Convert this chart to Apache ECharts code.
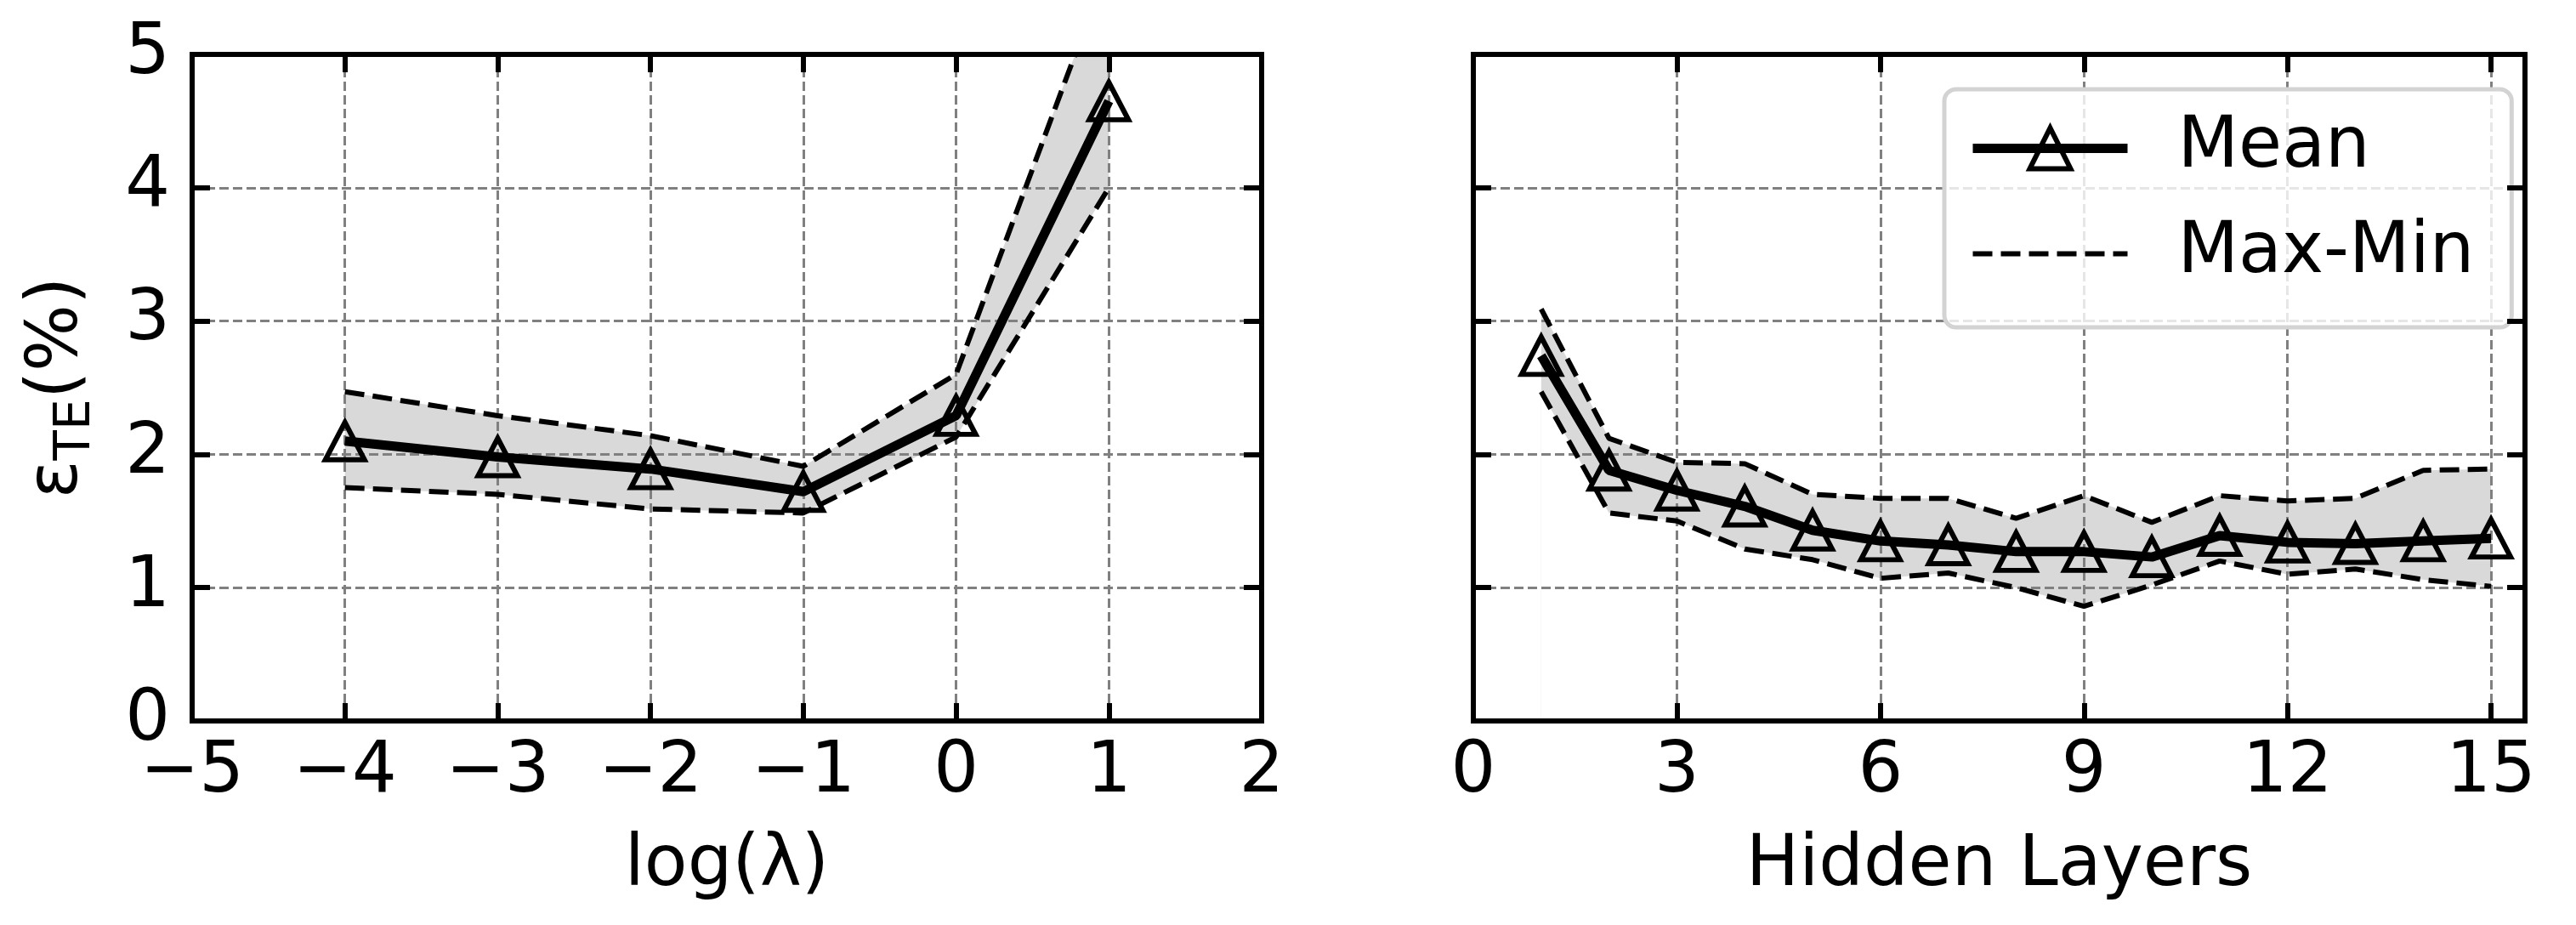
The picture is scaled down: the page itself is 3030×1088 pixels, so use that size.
<!DOCTYPE html>
<html>
<head>
<meta charset="utf-8">
<script src="https://cdn.jsdelivr.net/npm/echarts@6/dist/echarts.min.js"></script>
<style>
  html, body { margin: 0; padding: 0; background: #fff; }
  #chart { width: 3030px; height: 1088px; }
</style>
</head>
<body>
<div id="chart"></div>
<script>
// left panel: error vs log(lambda)
var lamX = [-4, -3, -2, -1, 0, 1];
var lamMean = [2.10, 1.98, 1.89, 1.72, 2.29, 4.65];
var lamMax = [2.47, 2.29, 2.14, 1.91, 2.60, 5.68];
var lamMin = [1.75, 1.70, 1.59, 1.56, 2.13, 4.00];

// right panel: error vs hidden layers
var layerX = [1, 2, 3, 4, 5, 6, 7, 8, 9, 10, 11, 12, 13, 14, 15];
var layerMean = [2.74, 1.88, 1.73, 1.61, 1.43, 1.35, 1.32, 1.27, 1.27, 1.23, 1.39, 1.34, 1.33, 1.35, 1.37];
var layerMax = [3.09, 2.12, 1.94, 1.93, 1.70, 1.67, 1.67, 1.52, 1.69, 1.49, 1.69, 1.65, 1.67, 1.88, 1.89];
var layerMin = [2.47, 1.56, 1.50, 1.29, 1.21, 1.07, 1.11, 1.00, 0.86, 1.02, 1.20, 1.10, 1.14, 1.06, 1.01];

// tick values
var lamTicks = [-5, -4, -3, -2, -1, 0, 1, 2];
var layerTicks = [0, 3, 6, 9, 12, 15];
var yTicks = [0, 1, 2, 3, 4, 5];

var FONT = 'DejaVu Sans';
var chart = echarts.init(document.getElementById('chart'));

function pairs(xs, ys) {
  return xs.map(function (x, i) { return [x, ys[i]]; });
}

function spine() {
  return { show: true, onZero: false, lineStyle: { color: '#000', width: 6, cap: 'square' } };
}
var tick = { show: true, inside: true, length: 21, lineStyle: { color: '#000', width: 6 } };
var grid = { show: true, lineStyle: { color: '#808080', width: 3, type: [11, 5] } };

function minusFmt(v) {
  return v < 0 ? '\u2212' + (-v) : String(v);
}

function mainX(gi, ticks, max, name) {
  return {
    type: 'value', gridIndex: gi, position: 'bottom',
    min: ticks[0], max: max, interval: ticks[1] - ticks[0],
    axisLine: spine(), axisTick: tick, splitLine: grid,
    axisLabel: {
      color: '#000', fontSize: 83, fontFamily: FONT, margin: 20, lineHeight: 83,
      showMaxLabel: max === ticks[ticks.length - 1],
      formatter: function (v) { return ticks.indexOf(v) >= 0 ? minusFmt(v) : ''; }
    },
    name: name, nameLocation: 'middle', nameGap: 130, nameMoveOverlap: false,
    nameTextStyle: { color: '#000', fontSize: 83, fontFamily: FONT, lineHeight: 83 },
    z: 1
  };
}
function sideX(gi, ticks, max) {
  return {
    type: 'value', gridIndex: gi, position: 'top',
    min: ticks[0], max: max, interval: ticks[1] - ticks[0],
    axisLine: spine(), axisTick: tick, splitLine: { show: false },
    axisLabel: { show: false }, z: 5
  };
}
function mainY(gi, showLabels, name) {
  var ax = {
    type: 'value', gridIndex: gi, position: 'left',
    min: yTicks[0], max: yTicks[yTicks.length - 1], interval: 1,
    axisLine: spine(), axisTick: tick, splitLine: grid,
    axisLabel: { show: showLabels, color: '#000', fontSize: 83, fontFamily: FONT, margin: 26 },
    z: 1
  };
  if (name) {
    ax.name = name;
    ax.nameLocation = 'middle';
    ax.nameRotate = 90;
    ax.nameGap = 107;
    ax.nameMoveOverlap = false;
    ax.nameTextStyle = {
      color: '#000', fontFamily: FONT, fontSize: 83,
      rich: {
        e: { fontSize: 83, fontFamily: FONT, color: '#000', lineHeight: 102, verticalAlign: 'middle' },
        s: { fontSize: 58, fontFamily: FONT, color: '#000', lineHeight: 58, verticalAlign: 'bottom' }
      }
    };
  }
  return ax;
}
function sideY(gi) {
  return {
    type: 'value', gridIndex: gi, position: 'right',
    min: yTicks[0], max: yTicks[yTicks.length - 1], interval: 1,
    axisLine: spine(), axisTick: tick, splitLine: { show: false },
    axisLabel: { show: false }, z: 5
  };
}

// band = gray area under the max curve, then white area under the min curve;
// both sit under the gridlines
function panelSeries(ax, xs, mean, hi, lo) {
  var dashed = { color: '#000', width: 6, type: [23, 10] };
  return [
    { name: 'bandHi' + ax, type: 'line', xAxisIndex: ax, yAxisIndex: ax,
      data: pairs(xs, hi), symbol: 'none', lineStyle: { opacity: 0 },
      areaStyle: { color: '#d9d9d9', opacity: 1, origin: 'start' }, silent: true, z: 0 },
    { name: 'bandLo' + ax, type: 'line', xAxisIndex: ax, yAxisIndex: ax,
      data: pairs(xs, lo), symbol: 'none', lineStyle: { opacity: 0 },
      areaStyle: { color: '#ffffff', opacity: 1, origin: 'start' }, silent: true, z: 0 },
    { name: 'Max-Min', type: 'line', xAxisIndex: ax, yAxisIndex: ax,
      data: pairs(xs, hi), symbol: 'none', lineStyle: dashed, z: 2 },
    { name: 'Max-Min', type: 'line', xAxisIndex: ax, yAxisIndex: ax,
      data: pairs(xs, lo), symbol: 'none', lineStyle: dashed, z: 2 },
    { name: 'Mean', type: 'line', xAxisIndex: ax, yAxisIndex: ax,
      data: pairs(xs, mean), symbol: 'triangle', symbolSize: [46, 44], showAllSymbol: true,
      lineStyle: { color: '#000', width: 11 },
      itemStyle: { color: 'rgba(0,0,0,0)', borderColor: '#000', borderWidth: 6 }, z: 3 }
  ];
}

var option = {
  backgroundColor: '#fff',
  animation: false,
  textStyle: { fontFamily: FONT },
  grid: [
    { left: 226, right: 1546, top: 64, bottom: 240, outerBoundsMode: 'none' },
    { left: 1733, right: 60, top: 64, bottom: 240, outerBoundsMode: 'none' }
  ],
  xAxis: [
    mainX(0, lamTicks, 2, 'log(\u03bb)'),
    mainX(1, layerTicks, 15.5, 'Hidden Layers'),
    sideX(0, lamTicks, 2),
    sideX(1, layerTicks, 15.5)
  ],
  yAxis: [
    mainY(0, true, '{e|\u03b5}{s|TE}{e|(%)}'),
    mainY(1, false, null),
    sideY(0),
    sideY(1)
  ],
  legend: {
    show: true, orient: 'vertical', left: 2287, top: 105,
    padding: [28, 44, 45, 28], itemGap: 41, itemWidth: 182, itemHeight: 60,
    backgroundColor: 'rgba(255,255,255,0.8)', borderColor: '#d3d3d3', borderWidth: 5, borderRadius: 14,
    textStyle: { color: '#000', fontSize: 83, fontFamily: FONT, lineHeight: 83, padding: [0, 0, 0, 54] },
    data: [
      { name: 'Mean', lineStyle: { color: '#000', width: 11 },
        itemStyle: { color: 'rgba(0,0,0,0)', borderColor: '#000', borderWidth: 6 } },
      { name: 'Max-Min', lineStyle: { color: '#000', width: 6, type: [23, 10] },
        itemStyle: { opacity: 0 } }
    ]
  },
  series: [].concat(
    panelSeries(0, lamX, lamMean, lamMax, lamMin),
    panelSeries(1, layerX, layerMean, layerMax, layerMin)
  )
};

chart.setOption(option);
</script>
</body>
</html>
